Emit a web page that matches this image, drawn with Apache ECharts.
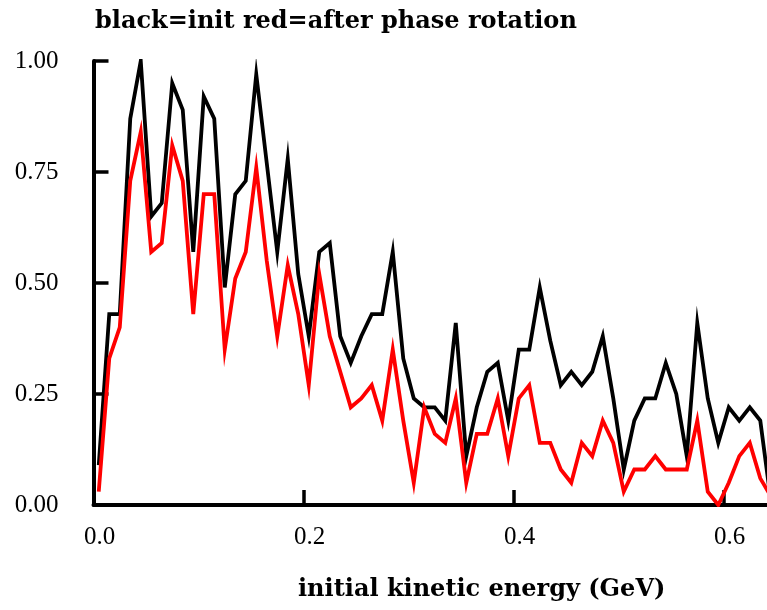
<!DOCTYPE html>
<html>
<head>
<meta charset="utf-8">
<script src="https://cdn.jsdelivr.net/npm/echarts@6/dist/echarts.min.js"></script>
<style>
html,body{margin:0;padding:0;background:#fff;}
#chart{width:767px;height:610px;}
</style>
</head>
<body>
<div id="chart"></div>
<script>
// initial kinetic energy (GeV), bin centres
var energy = [0.005,0.015,0.025,0.035,0.045,0.055,0.065,0.075,0.085,0.095,
              0.105,0.115,0.125,0.135,0.145,0.155,0.165,0.175,0.185,0.195,
              0.205,0.215,0.225,0.235,0.245,0.255,0.265,0.275,0.285,0.295,
              0.305,0.315,0.325,0.335,0.345,0.355,0.365,0.375,0.385,0.395,
              0.405,0.415,0.425,0.435,0.445,0.455,0.465,0.475,0.485,0.495,
              0.505,0.515,0.525,0.535,0.545,0.555,0.565,0.575,0.585,0.595,
              0.605,0.615,0.625,0.635,0.645];
// black = init
var initVals = [0.09,0.43,0.43,0.87,1.00,0.65,0.68,0.95,0.89,0.57,
                0.92,0.87,0.49,0.70,0.73,0.97,0.77,0.57,0.78,0.52,
                0.38,0.57,0.59,0.38,0.32,0.38,0.43,0.43,0.57,0.33,
                0.24,0.22,0.22,0.19,0.41,0.11,0.22,0.30,0.32,0.19,
                0.35,0.35,0.49,0.37,0.27,0.30,0.27,0.30,0.38,0.24,
                0.08,0.19,0.24,0.24,0.32,0.25,0.11,0.41,0.24,0.14,
                0.22,0.19,0.22,0.19,0.01];
// red = after phase rotation
var rotVals = [0.03,0.33,0.40,0.73,0.84,0.57,0.59,0.81,0.73,0.43,
               0.70,0.70,0.35,0.51,0.57,0.76,0.55,0.38,0.54,0.43,
               0.27,0.52,0.38,0.30,0.22,0.24,0.27,0.19,0.35,0.19,
               0.05,0.22,0.16,0.14,0.24,0.05,0.16,0.16,0.24,0.11,
               0.24,0.27,0.14,0.14,0.08,0.05,0.14,0.11,0.19,0.14,
               0.03,0.08,0.08,0.11,0.08,0.08,0.08,0.19,0.03,0.00,
               0.05,0.11,0.14,0.06,0.02];
var xTicks = [0, 0.2, 0.4, 0.6];
var yTicks = [0, 0.25, 0.5, 0.75, 1.0];
var titleText = 'black=init red=after phase rotation';
var xName = 'initial kinetic energy (GeV)';

function pairs(xs, ys){ var o=[]; for(var i=0;i<xs.length;i++){o.push([xs[i],ys[i]]);} return o; }

var chart = echarts.init(document.getElementById('chart'), null, {renderer:'canvas'});
var labelFont = {fontFamily:'"Liberation Serif"', fontSize:25, color:'#000'};
chart.setOption({
  animation:false,
  backgroundColor:'#fff',
  grid:{left:93.5, top:61, width:673.5, height:444, containLabel:false},
  xAxis:{
    type:'value', min:0, max:0.6414,
    axisLine:{show:true, lineStyle:{color:'#000', width:4}},
    axisTick:{show:true, inside:true, length:15, lineStyle:{color:'#000', width:3.5}, customValues:xTicks},
    axisLabel:Object.assign({margin:20, padding:[0,0,0,12], customValues:xTicks,
      formatter:function(v){return v.toFixed(1);}}, labelFont),
    splitLine:{show:false}
  },
  yAxis:{
    type:'value', min:0, max:1, interval:0.25,
    axisLine:{show:true, lineStyle:{color:'#000', width:4}},
    axisTick:{show:true, inside:true, length:15, lineStyle:{color:'#000', width:3.5}},
    axisLabel:Object.assign({margin:35, formatter:function(v){return v.toFixed(2);}}, labelFont),
    splitLine:{show:false}
  },
  graphic:[
    {type:'text', x:95, y:10, style:{text:titleText, font:'bold 24px "DejaVu Serif"', fill:'#000', verticalAlign:'top'}},
    {type:'text', x:298, y:578, style:{text:xName, font:'bold 24px "DejaVu Serif"', fill:'#000', verticalAlign:'top'}}
  ],
  series:[
    {type:'line', data:pairs(energy, initVals), symbol:'none', clip:true,
     lineStyle:{color:'#000', width:3.8, join:'miter', miterLimit:10}, z:2},
    {type:'line', data:pairs(energy, rotVals), symbol:'none', clip:true,
     lineStyle:{color:'#ff0000', width:3.8, join:'miter', miterLimit:10}, z:3}
  ]
});
</script>
</body>
</html>
